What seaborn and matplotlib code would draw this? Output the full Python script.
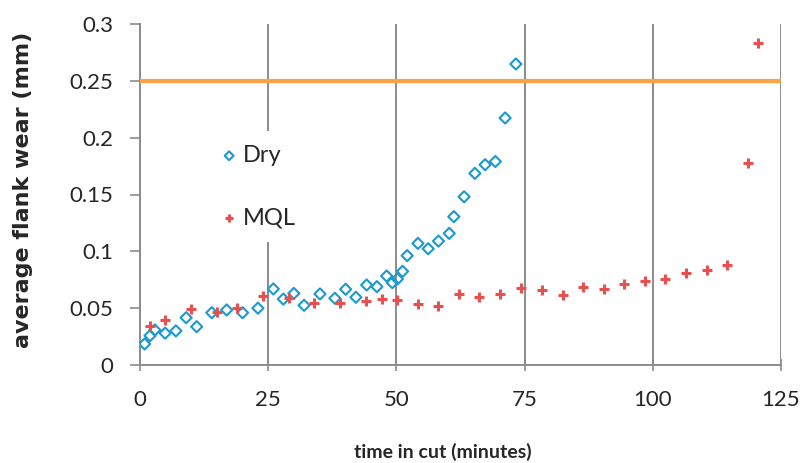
import matplotlib
matplotlib.use("Agg")
import matplotlib.pyplot as plt
import seaborn as sns
import pandas as pd
from matplotlib.ticker import FixedLocator

# ---- data ----
dry_time = [0.9, 1.95, 2.9, 4.9, 7.0, 9.0, 11.05, 14.0, 16.9, 20.0, 23.0, 26.0, 27.95,
            30.0, 32.0, 35.1, 38.0, 40.1, 42.1, 44.2, 46.2, 48.1, 49.2, 50.2, 51.2, 52.1,
            54.2, 56.2, 58.2, 60.3, 61.2, 63.2, 65.3, 67.3, 69.3, 71.2, 73.3]
dry_wear = [0.0185, 0.0258, 0.0308, 0.028, 0.030, 0.0416, 0.0337, 0.046, 0.0484, 0.046,
            0.050, 0.0669, 0.058, 0.063, 0.0525, 0.0625, 0.0587, 0.0666, 0.0596, 0.0704,
            0.0689, 0.0783, 0.0724, 0.0757, 0.0824, 0.0962, 0.107, 0.1023, 0.109, 0.1158,
            0.1305, 0.148, 0.1686, 0.1762, 0.179, 0.2173, 0.2648]
mql_time = [1.95, 4.9, 9.9, 14.95, 19.0, 23.9, 29.0, 34.0, 39.0, 44.1, 47.1, 50.05, 54.2,
            58.2, 62.2, 66.2, 70.3, 74.3, 78.3, 82.4, 86.3, 90.4, 94.4, 98.4, 102.4,
            106.5, 110.5, 114.5, 118.6, 120.5]
mql_wear = [0.0346, 0.040, 0.0493, 0.0463, 0.0504, 0.0607, 0.0592, 0.0545, 0.0548, 0.056,
            0.0578, 0.0575, 0.054, 0.0522, 0.0625, 0.0595, 0.0628, 0.0677, 0.0663, 0.0613,
            0.0686, 0.0666, 0.0713, 0.0739, 0.0757, 0.0812, 0.0836, 0.0883, 0.1775, 0.2836]
limit_time = [0, 125]
limit_wear = [0.25, 0.25]

x_ticks = [0, 25, 50, 75, 100, 125]
y_ticks = [0, 0.05, 0.1, 0.15, 0.2, 0.25, 0.3]
y_tick_labels = ["0", "0.05", "0.1", "0.15", "0.2", "0.25", "0.3"]

# ---- style ----
sns.set_theme(style="white")
plt.rcParams["font.family"] = ["Lato", "DejaVu Sans"]

blue = "#1A9AD0"
red = "#E8504F"
orange = "#F9A24A"
gray = "#8C8C8C"

fig = plt.figure(figsize=(8.03, 4.63), dpi=100)
ax = fig.add_axes([140 / 803, 1 - 365 / 463, 641 / 803, 341 / 463])

dry_df = pd.DataFrame({"t": dry_time, "w": dry_wear})
mql_df = pd.DataFrame({"t": mql_time, "w": mql_wear})
lim_df = pd.DataFrame({"t": limit_time, "w": limit_wear})

sns.lineplot(data=lim_df, x="t", y="w", ax=ax, color=orange, linewidth=3.0, zorder=3,
             legend=False)
sns.scatterplot(data=dry_df, x="t", y="w", ax=ax, marker="D", s=32, facecolor="none",
                edgecolor=blue, linewidth=1.5, zorder=4, label="Dry")
sns.scatterplot(data=mql_df, x="t", y="w", ax=ax, marker="+", s=60, color=red,
                linewidth=2.2, zorder=4, label="MQL")

ax.set_xlim(0, 125)
ax.set_ylim(0, 0.3)
ax.xaxis.set_major_locator(FixedLocator(x_ticks))
ax.yaxis.set_major_locator(FixedLocator(y_ticks))
ax.set_yticklabels(y_tick_labels)
ax.set_xticklabels([str(v) for v in x_ticks])

# vertical gridlines
ax.grid(axis="x", color=gray, linewidth=1.4, zorder=1)
ax.grid(axis="y", visible=False)
ax.set_axisbelow(True)

for s in ["top", "right"]:
    ax.spines[s].set_visible(False)
for s in ["left", "bottom"]:
    ax.spines[s].set_color(gray)
    ax.spines[s].set_linewidth(1.4)

ax.tick_params(axis="y", direction="out", length=7, width=1.2, color=gray,
               labelsize=16, pad=12, left=True)
ax.tick_params(axis="x", direction="inout", length=8, width=1.2, color=gray,
               labelsize=16, pad=14, bottom=True)

ax.set_xlabel("time in cut (minutes)", fontsize=14, fontweight="bold")
ax.xaxis.set_label_coords((443 - 140) / 641, (365 - 443) / 341)
ax.set_ylabel("average flank wear (mm)", fontsize=16, fontweight="bold",
              family=["DejaVu Sans"])
ax.yaxis.set_label_coords((33 - 140) / 641, (365 - 190) / 341)

leg = ax.legend(loc="upper left", bbox_to_anchor=((205.5 - 140) / 641, (365 - 130.8) / 341),
                borderaxespad=0, frameon=True, facecolor="white", edgecolor="none",
                framealpha=1, fontsize=17, labelspacing=1.74, handletextpad=0.2,
                handlelength=0.8, borderpad=0.6, markerscale=0.8)
leg.set_zorder(5)
leg.get_frame().set_boxstyle("square", pad=0)

fig.savefig("out.png", dpi=100)
